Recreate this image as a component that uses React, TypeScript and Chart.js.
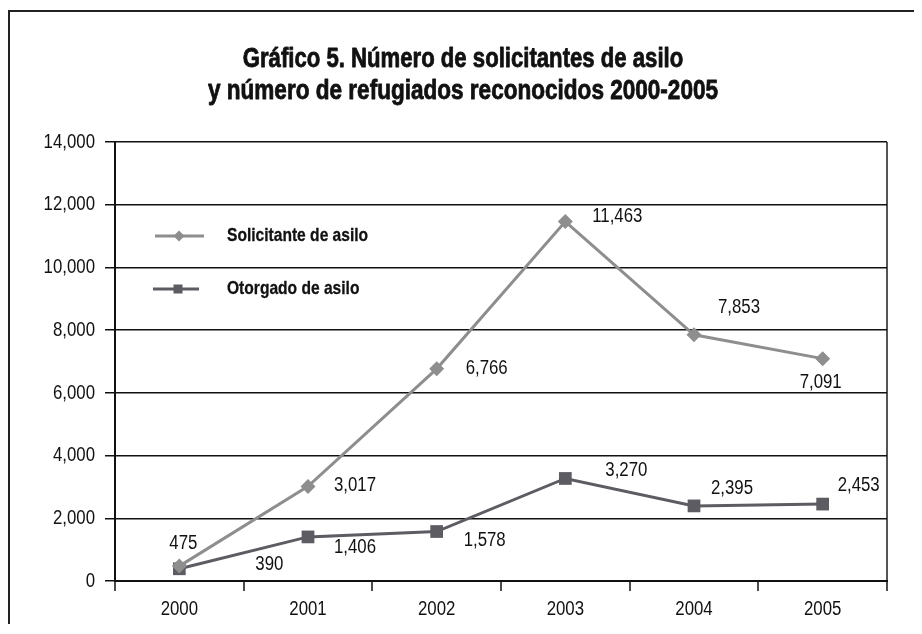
import React, { useEffect, useRef } from "react";
import { Chart, registerables } from "chart.js";

Chart.register(...registerables);

// Liberation Sans (Arial metrics) drawn horizontally condensed to mimic a narrow face
const FONT = "'Liberation Sans', Arial, sans-serif";
const NARROW = 0.82;

// ---- data ----
const years = ["2000", "2001", "2002", "2003", "2004", "2005"];
const solicitantes = [475, 3017, 6766, 11463, 7853, 7091];
const otorgados = [390, 1406, 1578, 3270, 2395, 2453];
const seriesNames = ["Solicitante de asilo", "Otorgado de asilo"];
const titleLines = [
  "Gráfico 5. Número de solicitantes de asilo",
  "y número de refugiados reconocidos 2000-2005",
];
const yMin = 0;
const yMax = 14000;
const yStep = 2000;

// ---- styles ----
const COLOR_SOL = "#8e8e8e";
const COLOR_OTO = "#5c5c62";
const TEXT = "#111";
// label offsets relative to each point (px), style only
const labelOffsets = [
  [[4, -23], [47, -1], [50, 0], [52, -5], [45, -27], [-2, 24]],
  [[90, -4], [47, 10], [48, 9], [61, -8], [38, -18], [36, -19]],
];

const fmt = (v: number) => Number(v).toLocaleString("en-US");

function drawText(
  ctx: CanvasRenderingContext2D,
  text: string,
  x: number,
  y: number,
  size: number,
  bold: boolean,
  align: CanvasTextAlign,
  baseline: CanvasTextBaseline,
  heavy = 0
) {
  ctx.save();
  ctx.translate(x, y);
  ctx.scale(NARROW, 1);
  ctx.font = `${bold ? "bold " : ""}${size}px ${FONT}`;
  ctx.fillStyle = TEXT;
  ctx.textAlign = align;
  ctx.textBaseline = baseline;
  ctx.fillText(text, 0, 0);
  if (heavy > 0) {
    ctx.strokeStyle = TEXT;
    ctx.lineWidth = heavy;
    ctx.lineJoin = "round";
    ctx.strokeText(text, 0, 0);
  }
  ctx.restore();
}

const textPlugin = {
  id: "narrowTexts",
  afterDraw(chart: any) {
    const ctx = chart.ctx as CanvasRenderingContext2D;
    const a = chart.chartArea;
    const xs = chart.scales.x;
    const ys = chart.scales.y;

    // title
    const cx = chart.width / 2 - 3;
    drawText(ctx, titleLines[0], cx, a.top - 75, 27, true, "center", "alphabetic", 0.8);
    drawText(ctx, titleLines[1], cx, a.top - 43, 27.5, true, "center", "alphabetic", 0.8);

    // y tick labels
    ys.ticks.forEach((t: any) => {
      drawText(ctx, fmt(t.value), a.left - 20, ys.getPixelForValue(t.value), 20.5, false, "right", "middle");
    });
    // x tick labels
    years.forEach((yr, i) => {
      drawText(ctx, yr, xs.getPixelForValue(i), a.bottom + 28, 20.5, false, "center", "middle");
    });

    // data labels
    chart.data.datasets.forEach((ds: any, di: number) => {
      const meta = chart.getDatasetMeta(di);
      meta.data.forEach((pt: any, i: number) => {
        const [dx, dy] = labelOffsets[di][i];
        drawText(ctx, fmt(ds.data[i]), pt.x + dx, pt.y + dy, 20.5, false, "center", "middle");
      });
    });

    // legend inside plot
    const rows = [
      { y: a.top + 94, x1: a.left + 40, x2: a.left + 89, mx: a.left + 64, color: COLOR_SOL, shape: "diamond" },
      { y: a.top + 147, x1: a.left + 38, x2: a.left + 84, mx: a.left + 63, color: COLOR_OTO, shape: "square" },
    ];
    ctx.save();
    rows.forEach((r, i) => {
      ctx.strokeStyle = r.color;
      ctx.lineWidth = 3;
      ctx.beginPath();
      ctx.moveTo(r.x1, r.y);
      ctx.lineTo(r.x2, r.y);
      ctx.stroke();
      ctx.fillStyle = r.color;
      if (r.shape === "diamond") {
        const s = 5.5;
        ctx.beginPath();
        ctx.moveTo(r.mx, r.y - s);
        ctx.lineTo(r.mx + s, r.y);
        ctx.lineTo(r.mx, r.y + s);
        ctx.lineTo(r.mx - s, r.y);
        ctx.closePath();
        ctx.fill();
      } else {
        ctx.fillRect(r.mx - 4.5, r.y - 4.5, 9, 9);
      }
      drawText(ctx, seriesNames[i], a.left + 112, r.y, 19, true, "left", "middle", 0.3);
    });
    ctx.restore();
  },
};

export default function App() {
  const canvasRef = useRef<HTMLCanvasElement | null>(null);

  useEffect(() => {
    if (!canvasRef.current) return;
    Chart.defaults.font.family = FONT;
    const chart = new Chart(canvasRef.current, {
      type: "line",
      data: {
        labels: years,
        datasets: [
          {
            label: seriesNames[0],
            data: solicitantes,
            borderColor: COLOR_SOL,
            backgroundColor: COLOR_SOL,
            pointBackgroundColor: COLOR_SOL,
            pointBorderColor: COLOR_SOL,
            borderWidth: 3,
            pointStyle: "rectRot",
            pointRadius: 7.5,
            pointBorderWidth: 0,
            tension: 0,
          },
          {
            label: seriesNames[1],
            data: otorgados,
            borderColor: COLOR_OTO,
            backgroundColor: COLOR_OTO,
            pointBackgroundColor: COLOR_OTO,
            pointBorderColor: COLOR_OTO,
            borderWidth: 3,
            pointStyle: "rect",
            pointRadius: 9,
            pointBorderWidth: 0,
            tension: 0,
          },
        ],
      },
      options: {
        animation: false,
        responsive: true,
        maintainAspectRatio: false,
        layout: { padding: { left: 25, right: 35, top: 130, bottom: 5 } },
        plugins: {
          legend: { display: false },
          tooltip: { enabled: false },
          title: { display: false },
        },
        scales: {
          x: {
            type: "category",
            offset: true,
            grid: {
              offset: true,
              drawOnChartArea: true,
              color: (c: any) => (c.index === undefined ? "#555" : "rgba(0,0,0,0)"),
              lineWidth: 2,
              tickColor: TEXT,
              tickLength: 10,
              tickWidth: 1.5,
            },
            border: { display: true, color: TEXT, width: 2 },
            ticks: { display: false },
            afterFit: (s: any) => {
              s.height = 40;
            },
          },
          y: {
            min: yMin,
            max: yMax,
            ticks: { stepSize: yStep, display: false },
            grid: { color: TEXT, lineWidth: 1.5, tickLength: 10 },
            border: { display: true, color: TEXT, width: 2 },
            afterFit: (s: any) => {
              s.width = 80;
            },
          },
        },
      },
      plugins: [textPlugin],
    } as any);
    return () => chart.destroy();
  }, []);

  return (
    <div
      style={{
        position: "relative",
        top: 2,
        width: 914,
        height: 616,
        boxSizing: "border-box",
        borderLeft: "2px solid #222",
        borderTop: "2px solid #222",
        background: "#fff",
      }}
    >
      <div style={{ position: "absolute", left: 0, top: 0, width: 912, height: 614 }}>
        <canvas ref={canvasRef} />
      </div>
    </div>
  );
}
